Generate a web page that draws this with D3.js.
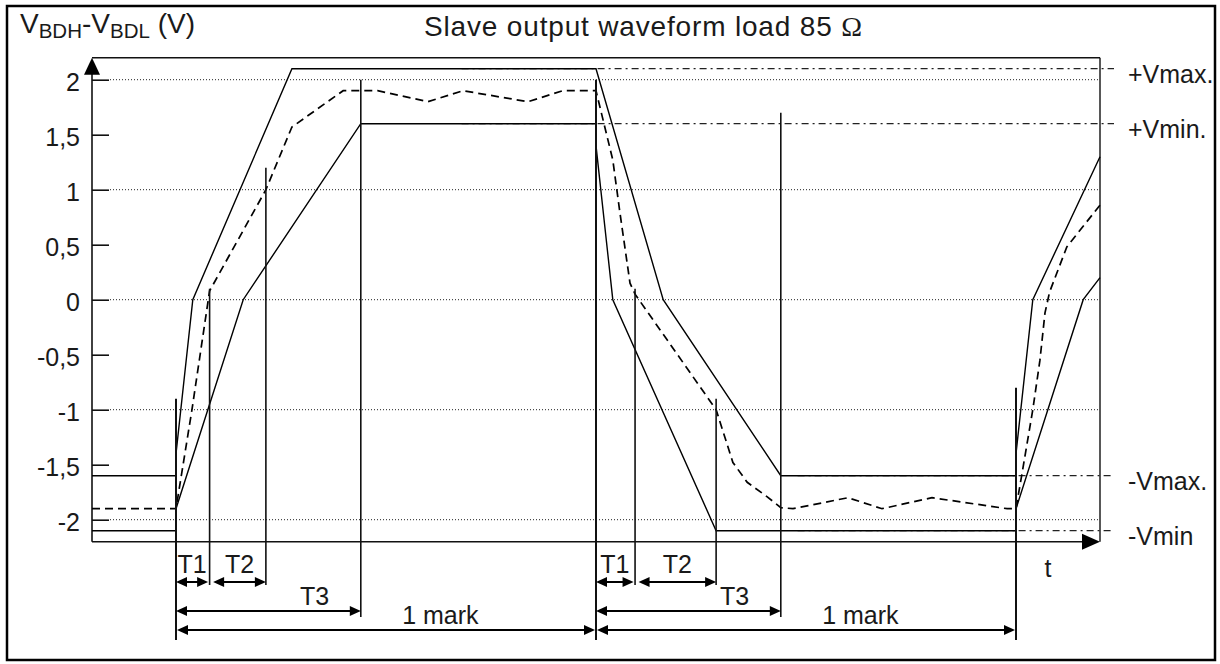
<!DOCTYPE html>
<html><head><meta charset="utf-8">
<script src="https://cdn.jsdelivr.net/npm/d3@7"></script>
<style>
body{margin:0;background:#fff}
svg{display:block}
text{font-family:"Liberation Sans",Arial,sans-serif;fill:#1a1a1a}
</style>
</head><body>
<svg id="c" width="1220" height="664"></svg>
<script>
// ---------- data ----------
const yTicks = [2, 1.5, 1, 0.5, 0, -0.5, -1, -1.5, -2];
const yTickLabels = ["2", "1,5", "1", "0,5", "0", "-0,5", "-1", "-1,5", "-2"];
const gridLevels = [2, 1, 0, -1, -2];

// time in arbitrary units: 1 mark = 100
const outerSolid = [[-20,-1.6],[0,-1.6],[0,-1.4],[4,0],[27.6,2.1],[100,2.1],[116,0],[144,-1.6],[200,-1.6],[200,-1.4],[204,0],[220,1.3]];
const innerSolid = [[-20,-2.1],[0,-2.1],[0,-1.9],[16,0],[44,1.6],[100,1.6],[100,1.4],[104,0],[128.6,-2.1],[200,-2.1],[200,-1.9],[216,0],[220,0.2]];
const typicalDashed = [[-20,-1.9],[0,-1.9],[3.8,-1.0],[8,0.08],[21.4,1.0],[27.6,1.57],[39.8,1.9],[48,1.9],[60,1.8],[68.3,1.9],[83.8,1.8],[92.1,1.9],[100,1.9],
  [101.9,1.6],[104,1.27],[105.7,0.79],[108.1,0.15],[109.3,0.05],[128.6,-1.0],[132.6,-1.48],[136,-1.66],[140.7,-1.79],[144,-1.89],[146.9,-1.9],[160,-1.8],[168.1,-1.9],[180,-1.8],[197.9,-1.9],[200,-1.9],
  [201.7,-1.52],[204,-1.0],[205.7,-0.55],[206.9,-0.12],[208,0.07],[212.1,0.48],[220,0.86]];

const limitLevels = [2.1, 1.6, -1.6, -2.1];
const limitLabels = ["+Vmax.", "+Vmin.", "-Vmax.", "-Vmin"];
const limitStarts = [68, 68, 148, 148];

const markerTimes = [0, 8, 21.4, 44, 100, 109.3, 128.6, 144, 200];
const markerTops  = [-0.9, 0.1, 1.2, 2.0, 2.0, 0.1, -0.9, 1.7, -0.8];
const markerKinds = ["mark","T1","T2","T3","mark","T1","T2","T3","mark"];

const spanLabels = ["T1","T2","T3","1 mark","T1","T2","T3","1 mark"];
const spanStarts = [0, 8, 0, 0, 100, 109.3, 100, 100];
const spanEnds   = [8, 21.4, 44, 100, 109.3, 128.6, 144, 200];

const titleText = "Slave output waveform load 85 ";
const axisXLabel = "t";

// ---------- layout ----------
const svg = d3.select("#c");
const x = d3.scaleLinear().domain([-20, 220]).range([92, 1100]);
const y = d3.scaleLinear().domain([-2.2, 2.2]).range([541.7, 57.7]);
const X0 = x(-20), X1 = x(220), YT = y(2.2), YB = y(-2.2);

const rowStyle = {
  T1:   {lineBottom: 585, arrowY: 582, labelY: 573, frac: 0.5},
  T2:   {lineBottom: 585, arrowY: 582, labelY: 573, frac: 0.5},
  T3:   {lineBottom: 617, arrowY: 611, labelY: 605, frac: 0.75},
  mark: {lineBottom: 640, arrowY: 630, labelY: 624, frac: 0.63}
};

// outer border
svg.append("rect").attr("x", 7).attr("y", 6).attr("width", 1208).attr("height", 654)
  .attr("fill", "none").attr("stroke", "#000").attr("stroke-width", 2.5);

// title
const tt = svg.append("text").attr("x", 424).attr("y", 36).attr("font-size", 28)
  .attr("textLength", 438).attr("lengthAdjust", "spacing");
tt.append("tspan").text(titleText);
tt.append("tspan").attr("font-family", "Liberation Serif, serif").text("Ω");

// y label
const yl = svg.append("text").attr("x", 20).attr("y", 33).attr("font-size", 28);
yl.append("tspan").text("V");
yl.append("tspan").attr("font-size", 20.5).attr("dy", 5).text("BDH");
yl.append("tspan").attr("dy", -5).text("-V");
yl.append("tspan").attr("font-size", 20.5).attr("dy", 5).text("BDL");
yl.append("tspan").attr("dy", -5).text(" (V)");

// grid (dotted)
svg.append("g").selectAll("line").data(gridLevels).join("line")
  .attr("x1", 110).attr("x2", X1).attr("y1", d => y(d)).attr("y2", d => y(d))
  .attr("stroke", "#222").attr("stroke-width", 1).attr("stroke-dasharray", "1,2");

// frame: top and right
svg.append("line").attr("x1", X0).attr("x2", X1).attr("y1", YT).attr("y2", YT).attr("stroke", "#111").attr("stroke-width", 1.6);
svg.append("line").attr("x1", X1).attr("x2", X1).attr("y1", YT).attr("y2", YB).attr("stroke", "#111").attr("stroke-width", 1.4);

// y axis via d3 axis
const yAxis = d3.axisLeft(y).tickValues(yTicks).tickFormat((d, i) => yTickLabels[i]).tickSize(-17).tickPadding(12);
const ga = svg.append("g").attr("transform", `translate(${X0},0)`).call(yAxis);
ga.select(".domain").remove();
ga.selectAll(".tick line").attr("stroke", "#111").attr("stroke-width", 1.6);
ga.selectAll(".tick text").attr("font-size", 25).attr("font-family", "Liberation Sans, Arial, sans-serif")
  .attr("fill", "#1a1a1a").attr("dy", "0.42em").attr("x", -12);

// axes lines + arrows
svg.append("line").attr("x1", X0).attr("x2", X0).attr("y1", YB).attr("y2", YT + 8).attr("stroke", "#111").attr("stroke-width", 1.6);
svg.append("path").attr("d", `M${X0},${YT} L${X0-8},${YT+17} L${X0+8},${YT+17} Z`).attr("fill", "#000");
svg.append("line").attr("x1", X0).attr("x2", X1 - 8).attr("y1", YB).attr("y2", YB).attr("stroke", "#111").attr("stroke-width", 1.6);
svg.append("path").attr("d", `M${X1},${YB} L${X1-18},${YB-8} L${X1-18},${YB+8} Z`).attr("fill", "#000");
svg.append("text").attr("x", 1048).attr("y", 577).attr("font-size", 25).attr("text-anchor", "middle").text(axisXLabel);

// limit dash-dot lines + labels
const lim = svg.append("g");
limitLevels.forEach((v, i) => {
  lim.append("line").attr("x1", x(limitStarts[i])).attr("x2", 1114).attr("y1", y(v)).attr("y2", y(v))
    .attr("stroke", "#222").attr("stroke-width", 1.2).attr("stroke-dasharray", "7,4,2,4");
  lim.append("text").attr("x", 1128).attr("y", y(v) + 14).attr("font-size", 25).text(limitLabels[i]);
});

// waveforms
const line = d3.line().x(d => x(d[0])).y(d => y(d[1]));
svg.append("path").datum(outerSolid).attr("d", line).attr("fill", "none").attr("stroke", "#000").attr("stroke-width", 1.4);
svg.append("path").datum(innerSolid).attr("d", line).attr("fill", "none").attr("stroke", "#000").attr("stroke-width", 1.4);
svg.append("path").datum(typicalDashed).attr("d", line).attr("fill", "none").attr("stroke", "#000").attr("stroke-width", 1.7).attr("stroke-dasharray", "8,5");

// marker verticals
svg.append("g").selectAll("line").data(markerTimes).join("line")
  .attr("x1", d => x(d)).attr("x2", d => x(d))
  .attr("y1", (d, i) => y(markerTops[i]))
  .attr("y2", (d, i) => rowStyle[markerKinds[i]].lineBottom)
  .attr("stroke", "#111").attr("stroke-width", (d, i) => markerKinds[i] === "mark" ? 2 : 1.6);

// dimension arrows
const ann = svg.append("g");
function arrowHead(xp, yp, dir) {
  ann.append("path").attr("d", `M${xp},${yp} L${xp - dir*11},${yp-5} L${xp - dir*11},${yp+5} Z`).attr("fill", "#000");
}
spanLabels.forEach((lab, i) => {
  const st = rowStyle[lab === "1 mark" ? "mark" : lab];
  let xa = x(spanStarts[i]), xb = x(spanEnds[i]);
  if (lab === "T1") xb -= 1.5;
  if (lab === "T2") xa += 3.5;
  if (lab === "1 mark") { xa += 1; xb -= 1; }
  ann.append("line").attr("x1", xa + 6).attr("x2", xb - 6).attr("y1", st.arrowY).attr("y2", st.arrowY)
    .attr("stroke", "#000").attr("stroke-width", 2);
  arrowHead(xa, st.arrowY, -1);
  arrowHead(xb, st.arrowY, 1);
  ann.append("text").attr("x", xa + (xb - xa) * st.frac).attr("y", st.labelY)
    .attr("text-anchor", "middle").attr("font-size", 25).text(lab);
});
</script>
</body></html>
